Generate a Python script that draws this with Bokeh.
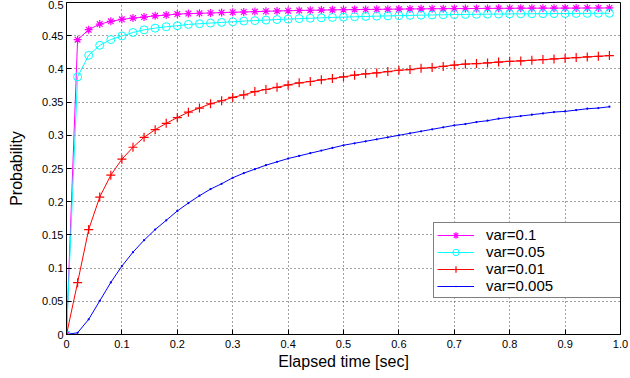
from bokeh.plotting import figure
from bokeh.models import Range1d, FixedTicker, Legend, LegendItem
from bokeh.embed import file_html
from bokeh.resources import INLINE

time_s = [0.00, 0.02, 0.04, 0.06, 0.08, 0.10, 0.12, 0.14, 0.16, 0.18,
          0.20, 0.22, 0.24, 0.26, 0.28, 0.30, 0.32, 0.34, 0.36, 0.38,
          0.40, 0.42, 0.44, 0.46, 0.48, 0.50, 0.52, 0.54, 0.56, 0.58,
          0.60, 0.62, 0.64, 0.66, 0.68, 0.70, 0.72, 0.74, 0.76, 0.78,
          0.80, 0.82, 0.84, 0.86, 0.88, 0.90, 0.92, 0.94, 0.96, 0.98]

p_var_0_1 = [0.0, 0.444, 0.459, 0.4675, 0.4716, 0.4746, 0.4766, 0.478, 0.480, 0.481,
             0.4825, 0.4833, 0.4837, 0.4842, 0.4848, 0.4853, 0.4857, 0.4863, 0.4868, 0.4872,
             0.4876, 0.4880, 0.4883, 0.4886, 0.4889, 0.4891, 0.4893, 0.4895, 0.4897, 0.4899,
             0.4901, 0.4903, 0.4904, 0.4906, 0.4907, 0.4908, 0.4909, 0.4910, 0.4911, 0.4912,
             0.4913, 0.4914, 0.4914, 0.4915, 0.4915, 0.4916, 0.4916, 0.4917, 0.4917, 0.4918]

p_var_0_05 = [0.0, 0.388, 0.4205, 0.4355, 0.4442, 0.4497, 0.4548, 0.4588, 0.4614, 0.4635,
              0.465, 0.467, 0.468, 0.469, 0.470, 0.471, 0.472, 0.4727, 0.4735, 0.4743,
              0.475, 0.4757, 0.4763, 0.4769, 0.4775, 0.478, 0.4785, 0.479, 0.4794, 0.4798,
              0.4802, 0.4806, 0.4809, 0.4812, 0.4815, 0.4818, 0.482, 0.4822, 0.4824, 0.4826,
              0.4828, 0.483, 0.4831, 0.4832, 0.4833, 0.4834, 0.4835, 0.4836, 0.4837, 0.4838]

p_var_0_01 = [0.0, 0.078, 0.158, 0.207, 0.240, 0.264, 0.282, 0.297, 0.3085, 0.318,
              0.3267, 0.3348, 0.341, 0.3475, 0.352, 0.357, 0.361, 0.3658, 0.369, 0.3723,
              0.3758, 0.379, 0.381, 0.3835, 0.3855, 0.388, 0.3906, 0.3926, 0.394, 0.396,
              0.398, 0.399, 0.401, 0.402, 0.4038, 0.4058, 0.4073, 0.408, 0.409, 0.4103,
              0.4114, 0.412, 0.413, 0.414, 0.415, 0.416, 0.417, 0.418, 0.419, 0.420]

p_var_0_005 = [0.0, 0.0026, 0.0228, 0.0506, 0.0785, 0.103, 0.124, 0.142, 0.158, 0.172,
               0.186, 0.198, 0.209, 0.219, 0.227, 0.236, 0.243, 0.249, 0.255, 0.260,
               0.265, 0.269, 0.273, 0.277, 0.281, 0.285, 0.288, 0.291, 0.294, 0.297,
               0.300, 0.303, 0.306, 0.309, 0.312, 0.315, 0.317, 0.320, 0.322, 0.325,
               0.327, 0.329, 0.331, 0.333, 0.335, 0.336, 0.338, 0.340, 0.341, 0.343]

labels = ["var=0.1", "var=0.05", "var=0.01", "var=0.005"]
x_ticks = [0.0, 0.1, 0.2, 0.3, 0.4, 0.5, 0.6, 0.7, 0.8, 0.9, 1.0]
x_tick_labels = ["0", "0.1", "0.2", "0.3", "0.4", "0.5", "0.6", "0.7", "0.8", "0.9", "1.0"]
y_ticks = [0.0, 0.05, 0.1, 0.15, 0.2, 0.25, 0.3, 0.35, 0.4, 0.45, 0.5]
y_tick_labels = ["0", "0.05", "0.1", "0.15", "0.2", "0.25", "0.3", "0.35", "0.4", "0.45", "0.5"]

FONT = "Liberation Sans"

p = figure(width=628, height=372, output_backend="svg", toolbar_location=None,
           x_range=Range1d(0, 1.0), y_range=Range1d(0, 0.5),
           min_border_left=66, min_border_right=8, min_border_top=2, min_border_bottom=36)
p.outline_line_color = "black"
p.outline_line_width = 1
p.background_fill_color = "white"
p.border_fill_color = "white"

def style_axis(ax, ticks, tick_labels, nminor):
    ax.ticker = FixedTicker(ticks=ticks, num_minor_ticks=nminor)
    ax.axis_line_color = "black"
    ax.major_tick_in = 5
    ax.major_tick_out = 0
    ax.minor_tick_in = 2
    ax.minor_tick_out = 0
    ax.major_tick_line_color = "black"
    ax.minor_tick_line_color = "#444444"
    ax.major_label_text_font = FONT
    ax.major_label_text_color = "black"
    ax.major_label_overrides = {t: l for t, l in zip(ticks, tick_labels)}
    ax.major_label_text_font_size = "11px"

xa = p.xaxis[0]
ya = p.yaxis[0]
style_axis(xa, x_ticks, x_tick_labels, 10)
style_axis(ya, y_ticks, y_tick_labels, 5)
xa.major_label_standoff = 5
ya.major_label_standoff = 3
xa.axis_label = "Elapsed time [sec]"
ya.axis_label = "Probability"
for ax in (xa, ya):
    ax.axis_label_text_font = FONT
    ax.axis_label_text_font_size = "16px"
    ax.axis_label_text_font_style = "normal"
    ax.axis_label_text_color = "black"
xa.axis_label_standoff = 2
ya.axis_label_standoff = 14

p.xgrid.ticker = FixedTicker(ticks=x_ticks)
p.ygrid.ticker = FixedTicker(ticks=y_ticks)
for g in (p.xgrid[0], p.ygrid[0]):
    g.grid_line_color = "#444444"
    g.grid_line_dash = "1 3"
    g.grid_line_width = 1

series = [
    (p_var_0_1, "#ff00ff", "asterisk", 8),
    (p_var_0_05, "#00ffff", "circle", 8),
    (p_var_0_01, "#ff0000", "cross", 9),
    (p_var_0_005, "#0000ff", "dot", 9),
]

items = []
for (vals, color, marker, size), lab in zip(series, labels):
    r_line = p.line(time_s, vals, line_color=color, line_width=1)
    if marker == "circle":
        r_mark = p.scatter(time_s, vals, marker="circle", size=size,
                           line_color=color, fill_color=None, line_width=1)
    elif marker == "dot":
        r_mark = p.scatter(time_s, vals, marker="dot", size=size,
                           line_color=color, fill_color=color, line_width=1)
    else:
        r_mark = p.scatter(time_s, vals, marker=marker, size=size,
                           line_color=color, line_width=1.2)
    items.append(LegendItem(label=lab, renderers=[r_line, r_mark]))

legend = Legend(items=items, location=(367, 36))
legend.border_line_color = "black"
legend.border_line_width = 1
legend.background_fill_color = "white"
legend.background_fill_alpha = 1
legend.label_text_font = FONT
legend.label_text_font_size = "15px"
legend.label_text_color = "black"
legend.label_height = 16
legend.glyph_height = 16
legend.glyph_width = 37
legend.label_standoff = 12
legend.spacing = 0
legend.padding = 3
legend.margin = 0
legend.label_width = 135
p.add_layout(legend, "center")

open("out.html", "w").write(file_html(p, INLINE))
